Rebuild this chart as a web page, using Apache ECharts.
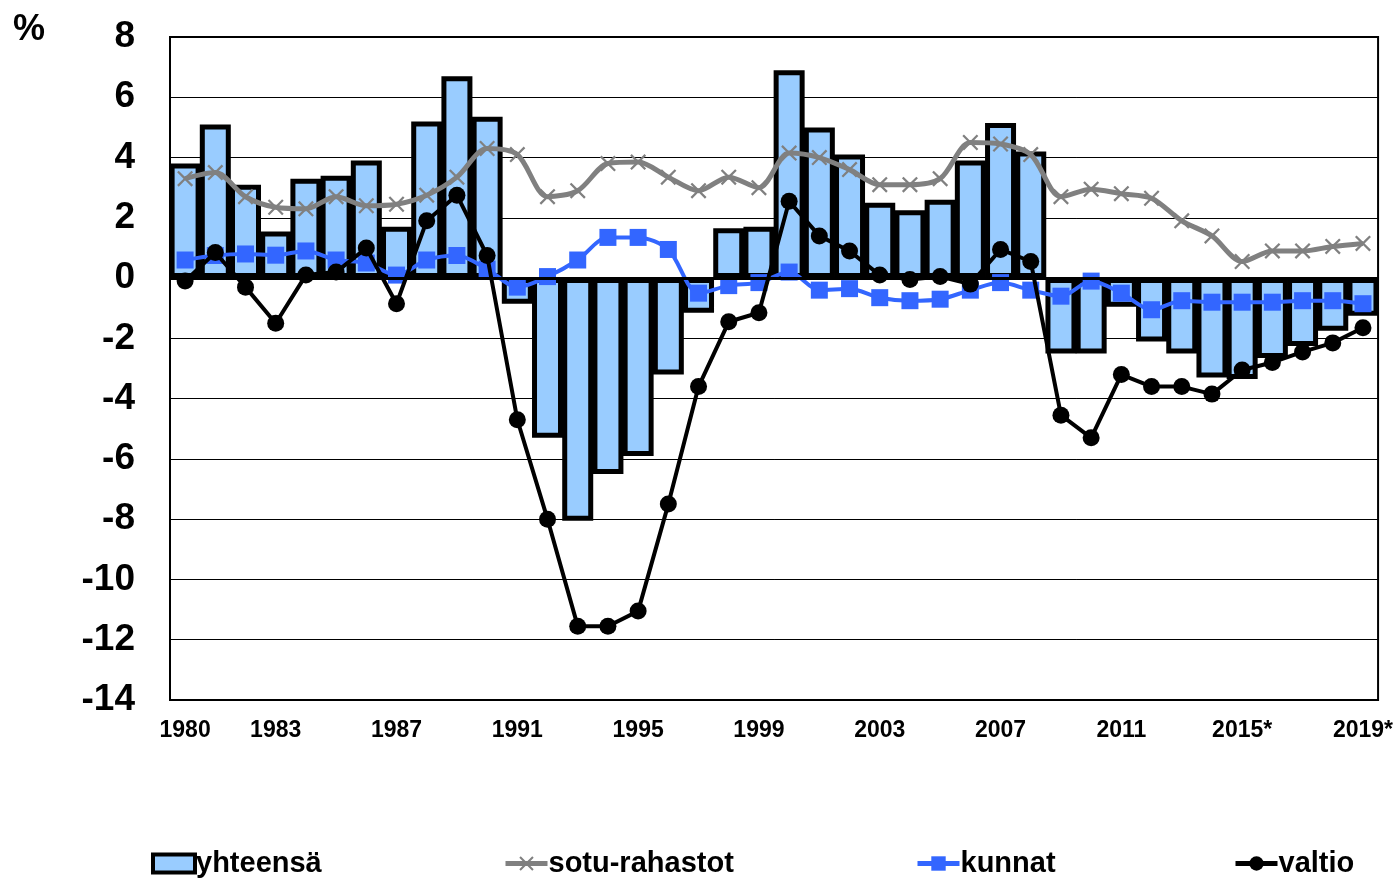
<!DOCTYPE html>
<html>
<head>
<meta charset="utf-8">
<script src="https://cdn.jsdelivr.net/npm/echarts@6/dist/echarts.min.js"></script>
<style>
	html, body { margin: 0; padding: 0; background: #fff; }
	#main { width: 1396px; height: 878px; }
</style>
</head>
<body>
<div id="main"></div>
<script>
var years = ['1980','1981','1982','1983','1984','1985','1986','1987','1988','1989',
	'1990','1991','1992','1993','1994','1995','1996','1997','1998','1999',
	'2000','2001','2002','2003','2004','2005','2006','2007','2008','2009',
	'2010','2011','2012','2013','2014','2015*','2016*','2017*','2018*','2019*'];

var yhteensa = [3.8, 5.1, 3.1, 1.55, 3.3, 3.4, 3.9, 1.7, 5.2, 6.7,
	5.35, -0.85, -5.3, -8.05, -6.5, -5.9, -3.2, -1.15, 1.65, 1.7,
	6.9, 5.0, 4.1, 2.5, 2.25, 2.6, 3.9, 5.15, 4.2, -2.5,
	-2.5, -0.95, -2.1, -2.5, -3.3, -3.35, -2.65, -2.25, -1.75, -1.25];

var sotuRahastot = [3.3, 3.5, 2.7, 2.35, 2.3, 2.7, 2.4, 2.45, 2.75, 3.35,
	4.3, 4.1, 2.7, 2.9, 3.8, 3.85, 3.35, 2.9, 3.35, 3.0,
	4.15, 4.0, 3.6, 3.1, 3.1, 3.3, 4.5, 4.45, 4.1, 2.7,
	2.95, 2.8, 2.65, 1.9, 1.4, 0.55, 0.9, 0.9, 1.05, 1.15];

var kunnat = [0.6, 0.75, 0.8, 0.76, 0.9, 0.6, 0.5, 0.1, 0.6, 0.75,
	0.3, -0.3, 0.05, 0.6, 1.35, 1.35, 0.95, -0.5, -0.25, -0.15,
	0.2, -0.4, -0.35, -0.65, -0.75, -0.7, -0.4, -0.15, -0.4, -0.6,
	-0.1, -0.5, -1.05, -0.75, -0.8, -0.8, -0.8, -0.75, -0.75, -0.85];

var valtio = [-0.1, 0.85, -0.3, -1.5, 0.1, 0.2, 1.0, -0.85, 1.9, 2.75,
	0.75, -4.7, -8.0, -11.55, -11.55, -11.05, -7.5, -3.6, -1.45, -1.15,
	2.55, 1.4, 0.9, 0.1, -0.05, 0.05, -0.2, 0.95, 0.55, -4.55,
	-5.3, -3.2, -3.6, -3.6, -3.85, -3.05, -2.8, -2.45, -2.15, -1.65];

var seriesNames = ['yhteensä', 'sotu-rahastot', 'kunnat', 'valtio'];

var fontFamily = 'Arial, "Liberation Sans", sans-serif';
var crossSymbol = 'path://M0,1L1,0L5,4L9,0L10,1L6,5L10,9L9,10L5,6L1,10L0,9L4,5Z';

// one legend per item, so each sits where it does in the original
function legendAt(item, left) {
	return {
		data: [item],
		left: left,
		top: 844,
		itemWidth: 42,
		itemHeight: 18,
		textStyle: { fontSize: 29, fontWeight: 'bold', color: '#000', fontFamily: fontFamily, padding: [0, 0, 0, -4] },
		selectedMode: false
	};
}

var myChart = echarts.init(document.getElementById('main'), null, { renderer: 'canvas' });

myChart.setOption({
	animation: false,
	backgroundColor: '#fff',
	textStyle: { fontFamily: fontFamily },
	grid: {
		left: 170, right: 16, top: 37, bottom: 178,
		show: true, borderColor: '#000', borderWidth: 2, backgroundColor: '#fff'
	},
	graphic: [{
		type: 'text', left: 13, top: 12,
		style: { text: '%', fontSize: 36, fontWeight: 'bold', fill: '#000', fontFamily: fontFamily }
	}],
	legend: [
		legendAt({ name: seriesNames[0], icon: 'rect', itemStyle: { borderWidth: 4, borderColor: '#000' } }, 146),
		legendAt({ name: seriesNames[1], lineStyle: { width: 5 } }, 498),
		legendAt({ name: seriesNames[2], lineStyle: { width: 5 } }, 910),
		legendAt({ name: seriesNames[3], lineStyle: { width: 5 } }, 1228)
	],
	xAxis: {
		type: 'category',
		data: years,
		axisLine: { onZero: false, lineStyle: { color: '#000', width: 2 } },
		axisTick: { show: false },
		axisLabel: {
			interval: function(index) { return index === 0 || (index + 1) % 4 === 0; },
			fontSize: 23, fontWeight: 'bold', color: '#000', margin: 19
		},
		splitLine: { show: false }
	},
	yAxis: {
		type: 'value',
		min: -14, max: 8, interval: 2,
		axisLine: { show: true, lineStyle: { color: '#000', width: 2 } },
		axisTick: { show: false },
		axisLabel: { fontSize: 37, fontWeight: 'bold', color: '#000', margin: 35 },
		splitLine: { lineStyle: { color: '#000', width: 1 } }
	},
	series: [
		{
			name: seriesNames[0],
			type: 'bar',
			data: yhteensa,
			barWidth: 31,
			itemStyle: { color: '#99CCFF', borderColor: '#000', borderWidth: 5 },
			markLine: {
				silent: true, symbol: 'none', label: { show: false },
				lineStyle: { color: '#000', width: 3, type: 'solid' },
				data: [{ yAxis: 0 }]
			},
			z: 2
		},
		{
			name: seriesNames[1],
			type: 'line',
			data: sotuRahastot,
			smooth: 0.3,
			symbol: crossSymbol,
			symbolSize: 16,
			lineStyle: { color: '#808080', width: 5 },
			itemStyle: { color: '#808080' },
			z: 3
		},
		{
			name: seriesNames[2],
			type: 'line',
			data: kunnat,
			smooth: 0.3,
			symbol: 'rect',
			symbolSize: 17,
			lineStyle: { color: '#3366FF', width: 4 },
			itemStyle: { color: '#3366FF' },
			z: 4
		},
		{
			name: seriesNames[3],
			type: 'line',
			data: valtio,
			symbol: 'circle',
			symbolSize: 17,
			lineStyle: { color: '#000', width: 4 },
			itemStyle: { color: '#000' },
			z: 5
		}
	]
});
</script>
</body>
</html>
